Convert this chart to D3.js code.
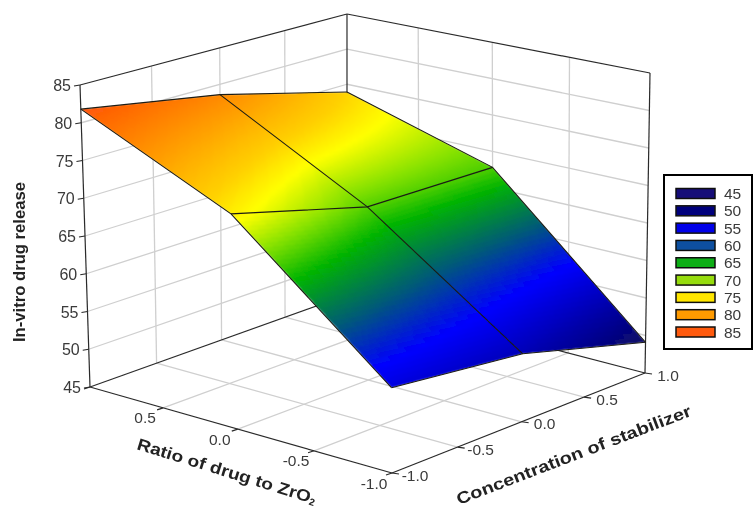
<!DOCTYPE html>
<html><head><meta charset="utf-8">
<script src="https://cdnjs.cloudflare.com/ajax/libs/d3/7.8.5/d3.min.js"></script>
<style>html,body{margin:0;padding:0;background:#fff}svg{display:block}text{font-family:"Liberation Sans",Arial,sans-serif}</style>
</head><body><svg id="c" width="753" height="509">
<defs>
<filter id="soft" x="-5%" y="-5%" width="110%" height="110%"><feGaussianBlur stdDeviation="0.8"/></filter>
<filter id="soft2" x="-5%" y="-5%" width="110%" height="110%"><feGaussianBlur stdDeviation="0.35"/></filter>
<clipPath id="surfClip"><path id="surfClipPath"/></clipPath>
</defs></svg>
<script>
// ---- data ----
const ratioLevels = [1, 0, -1];
const concLevels = [-1, 0, 1];
const releaseR1 = [81.8, 78.6, 73.9];   // ratio = 1
const releaseR0 = [72.8, 68.0, 67.8];   // ratio = 0
const releaseRm1 = [55.8, 53.8, 49.1];  // ratio = -1
const releaseRows = [releaseR1, releaseR0, releaseRm1];
const zTicks = [45, 50, 55, 60, 65, 70, 75, 80, 85];
const hTicks = [-1, -0.5, 0, 0.5, 1];
const hTickLabels = ["-1.0", "-0.5", "0.0", "0.5", "1.0"];
const legendValues = [45, 50, 55, 60, 65, 70, 75, 80, 85];
const legendColors = ["#160a78", "#00007c", "#0000e8", "#0a50a0", "#0aae14", "#96dc0a", "#ffe600", "#ff9a00", "#ff5a0a"];
const surfStops = [45, 49, 53, 57.5, 61.5, 66, 69, 72, 74, 77, 82, 85];
const surfColors = ["#0a0a50", "#0a0a62", "#0000a8", "#0000ff", "#00587a", "#00b400", "#80e000", "#ffff00", "#ffd000", "#ffa000", "#ff5208", "#ff3000"];

// ---- projection: floor and ceiling quads of the box ----
const floorQuad = [[90,387],[347,295],[645,373],[392,473]];
const ceilQuad = [[80,85],[347,14],[650,73],[390,157]];
function quadMap(q){
  const [[x0,y0],[x1,y1],[x2,y2],[x3,y3]] = q;
  const dx1=x1-x2, dx2=x3-x2, sx=x0-x1+x2-x3, dy1=y1-y2, dy2=y3-y2, sy=y0-y1+y2-y3;
  const den=dx1*dy2-dx2*dy1, g=(sx*dy2-dx2*sy)/den, h=(dx1*sy-sx*dy1)/den;
  const a=x1-x0+g*x1, b=x3-x0+h*x3, d=y1-y0+g*y1, e=y3-y0+h*y3;
  return (u,v)=>{const w=g*u+h*v+1;return [(a*u+b*v+x0)/w,(d*u+e*v+y0)/w];};
}
const floorMap=quadMap(floorQuad), ceilMap=quadMap(ceilQuad);
const uScale=d3.scaleLinear().domain([-1,1]).range([0,1]);
const vScale=d3.scaleLinear().domain([1,-1]).range([0,1]);
const zScale=d3.scaleLinear().domain([45,85]).range([0,1]);
function project(r,c,z){
  const u=uScale(c),v=vScale(r),t=zScale(z);
  const f=floorMap(u,v),k=ceilMap(u,v);
  return [f[0]+(k[0]-f[0])*t,f[1]+(k[1]-f[1])*t];
}
const color=d3.scaleLinear().domain(surfStops).range(surfColors).clamp(true);
const svg=d3.select("#c");
const root=svg.append("g").attr("filter","url(#soft2)");
const line=d3.line();
const gridG=root.append("g").attr("fill","none").attr("stroke","#cfcfcf").attr("stroke-width",1.3);
const edgeG=root.append("g").attr("fill","none").attr("stroke","#2a2a2a").attr("stroke-width",1.2);
function seg(g,a,b){g.append("path").attr("d",line([a,b]));}

// grid
hTicks.slice(1,4).forEach(t=>{
  seg(gridG,project(1,t,45),project(1,t,85));
  seg(gridG,project(t,1,45),project(t,1,85));
  seg(gridG,project(t,-1,45),project(t,1,45));
  seg(gridG,project(-1,t,45),project(1,t,45));
});
zTicks.slice(1,8).forEach(z=>{
  seg(gridG,project(1,-1,z),project(1,1,z));
  seg(gridG,project(1,1,z),project(-1,1,z));
});
// box edges
[[[1,-1,45],[1,-1,85]],[[1,1,45],[1,1,85]],[[-1,1,45],[-1,1,85]],
 [[1,-1,85],[1,1,85]],[[1,1,85],[-1,1,85]],
 [[1,-1,45],[1,1,45]],[[1,1,45],[-1,1,45]],
 [[1,-1,45],[-1,-1,45]],[[-1,-1,45],[-1,1,45]]].forEach(e=>seg(edgeG,project(...e[0]),project(...e[1])));

// ticks
zTicks.forEach(z=>{const p=project(1,-1,z);seg(edgeG,p,[p[0]-6,p[1]+1]);});
hTicks.forEach(t=>{
  let p=project(t,-1,45);seg(edgeG,p,[p[0]-6,p[1]+2]);
  p=project(-1,t,45);seg(edgeG,p,[p[0]+7,p[1]+1]);
});

// surface mesh (clipped to the surface outline so the soft fill keeps a clean edge)
const outline=[
  ...concLevels.map((c,j)=>project(ratioLevels[0],c,releaseRows[0][j])),
  ...ratioLevels.slice(1).map((r,i)=>project(r,1,releaseRows[i+1][2])),
  ...concLevels.slice(0,2).reverse().map((c,j)=>project(-1,c,releaseRows[2][1-j])),
  project(0,-1,releaseRows[1][0])
];
d3.select("#surfClipPath").attr("d",line(outline)+"Z");
const N=40, surfClip=root.append("g").attr("clip-path","url(#surfClip)"), surfG=surfClip.append("g").attr("filter","url(#soft)");
const lerp=d3.interpolateNumber;
for(let i=0;i<ratioLevels.length-1;i++)for(let j=0;j<concLevels.length-1;j++){
  const r0=ratioLevels[i],r1=ratioLevels[i+1],c0=concLevels[j],c1=concLevels[j+1];
  const zz=releaseRows;
  const f=(s,t)=>lerp(lerp(zz[i][j],zz[i][j+1])(t),lerp(zz[i+1][j],zz[i+1][j+1])(t))(s);
  for(let a=0;a<N;a++)for(let b=0;b<N;b++){
    const pt=(s,t)=>project(lerp(r0,r1)(s),lerp(c0,c1)(t),f(s,t));
    const col=color(f((a+.5)/N,(b+.5)/N));
    surfG.append("path")
      .attr("d",line([pt(a/N,b/N),pt(a/N,(b+1)/N),pt((a+1)/N,(b+1)/N),pt((a+1)/N,b/N)])+"Z")
      .attr("fill",col).attr("stroke",col).attr("stroke-width",1).attr("shape-rendering","crispEdges");
  }
}
// surface mesh lines
const meshG=root.append("g").attr("fill","none").attr("stroke","#1c1c14").attr("stroke-width",1.1);
ratioLevels.forEach((r,i)=>meshG.append("path").attr("d",line(concLevels.map((c,j)=>project(r,c,releaseRows[i][j])))));
concLevels.forEach((c,j)=>meshG.append("path").attr("d",line(ratioLevels.map((r,i)=>project(r,c,releaseRows[i][j])))));

// labels
const txt="#3a3a3a";
zTicks.forEach(z=>{const p=project(1,-1,z);
  root.append("text").attr("x",p[0]-9).attr("y",p[1]+6).attr("text-anchor","end").attr("font-size",16).attr("fill",txt).text(z);});
hTicks.forEach((t,i)=>{
  if(i<4){const p=project(t,-1,45);
    root.append("text").attr("x",p[0]-18).attr("y",p[1]+15.5).attr("text-anchor","middle").attr("font-size",15.5).attr("fill",txt).text(hTickLabels[i]);}
  const q=project(-1,t,45);
  root.append("text").attr("x",q[0]+23).attr("y",q[1]+7.5).attr("text-anchor","middle").attr("font-size",15.5).attr("fill",txt).text(hTickLabels[i]);
});
root.append("text").attr("transform","translate(25,262) rotate(-90)").attr("text-anchor","middle")
  .attr("font-size",16).attr("textLength",160).attr("lengthAdjust","spacingAndGlyphs").attr("font-weight","bold").attr("fill","#222").text("In-vitro drug release");
const rt=root.append("text").attr("transform","translate(136,449) rotate(17.2)").attr("font-size",16.5).attr("font-weight","bold").attr("fill","#222");
rt.append("tspan").attr("textLength",181).attr("lengthAdjust","spacingAndGlyphs").text("Ratio of drug to ZrO");
rt.append("tspan").attr("dy",2).attr("font-size",10).text("2");
root.append("text").attr("transform","translate(459,505) rotate(-21)").attr("font-size",16.5).attr("font-weight","bold").attr("textLength",250).attr("lengthAdjust","spacingAndGlyphs").attr("fill","#222").text("Concentration of stabilizer");

// legend
root.append("rect").attr("x",664).attr("y",175).attr("width",88).attr("height",174).attr("fill","#fff").attr("stroke","#000").attr("stroke-width",2);
const legY=d3.scalePoint().domain(legendValues).range([193.5,332]);
legendValues.forEach((v,i)=>{
  root.append("rect").attr("x",676).attr("y",legY(v)-5).attr("width",39).attr("height",10).attr("fill",legendColors[i]).attr("stroke","#111").attr("stroke-width",1.5);
  root.append("text").attr("x",724).attr("y",legY(v)+5.5).attr("font-size",15.5).attr("fill",txt).text(v);
});
</script></body></html>
